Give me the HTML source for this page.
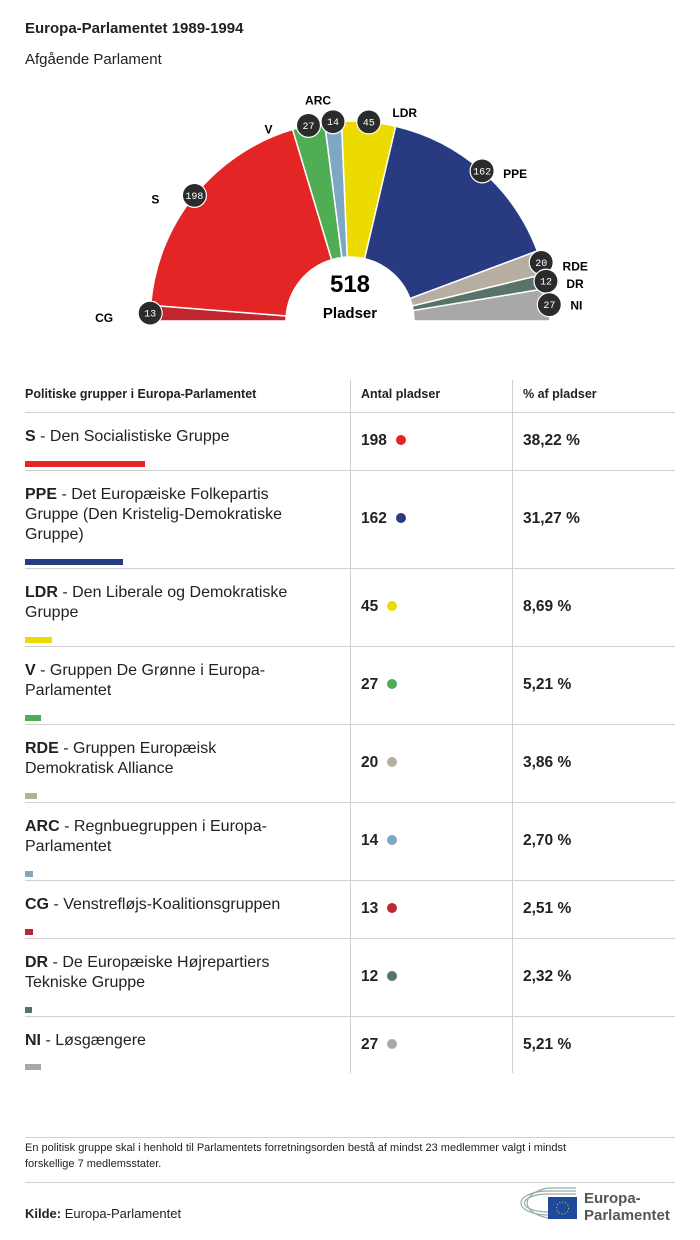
<!DOCTYPE html>
<html><head><meta charset="utf-8">
<style>
body{margin:0;width:700px;height:1240px;background:#fff;font-family:"Liberation Sans",sans-serif;color:#222;position:relative;overflow:hidden}
.a{position:absolute}
.t{font-size:16px;line-height:20px}
.hl{position:absolute;height:1px;background:#d0d0d0}
.vl{position:absolute;width:1px;background:#d0d0d0}
</style></head><body>
<div class="a" style="left:25px;top:20px;font-size:15px;font-weight:bold">Europa-Parlamentet 1989-1994</div>
<div class="a" style="left:25px;top:51px;font-size:15px">Afgående Parlament</div>
<svg class="a" style="left:0;top:0" width="700" height="360" id="hemi"></svg>
<div id="table"></div>
<div class="hl" style="left:25px;top:1137px;width:650px"></div>
<div class="a" style="left:25px;top:1140px;font-size:11px;line-height:16px;width:650px">En politisk gruppe skal i henhold til Parlamentets forretningsorden bestå af mindst 23 medlemmer valgt i mindst<br>forskellige 7 medlemsstater.</div>
<div class="hl" style="left:25px;top:1182px;width:650px"></div>
<div class="a" style="left:25px;top:1206px;font-size:13px"><b>Kilde:</b> Europa-Parlamentet</div>
<svg class="a" style="left:512px;top:1185px" width="170" height="40">
<g fill="none" stroke="#9aa" stroke-width="1.2"><path d="M36 33 A32 16 0 0 1 36 3"/><path d="M36 30 A27 12 0 0 1 36 6"/><path d="M36 27 A21 8 0 0 1 36 9"/><path d="M36 3 L64 3 M36 6 L64 6 M36 9 L64 9"/></g>
<rect x="36" y="12" width="29" height="22" fill="#1f4a9c"/><circle cx="50.5" cy="23" r="6" fill="none" stroke="#fc0" stroke-dasharray="1 2.1"/>
<text x="72" y="18" font-size="15" font-weight="bold" fill="#555">Europa-</text>
<text x="72" y="35" font-size="15" font-weight="bold" fill="#555">Parlamentet</text>
</svg>
<script>
const groups=["CG","S","V","ARC","LDR","PPE","RDE","DR","NI"];
const seats=[13,198,27,14,45,162,20,12,27];
const colors=["#c0262d","#e32526","#4fae54","#7ea7c4","#ecdb00","#283b80","#b5aea1","#58736a","#a8a8a8"];
const svg=document.getElementById('hemi');const NS="http://www.w3.org/2000/svg";
const cx=350,cy=321,R=200,r0=64;const total=seats.reduce((a,b)=>a+b,0);
function pt(a,r){return [cx-Math.cos(a)*r,cy-Math.sin(a)*r];}
let acc=0;
const labOff={CG:[-46,5],S:[-39,4],V:[-40,4],ARC:[-15,-21],LDR:[36,-9],PPE:[33,3],RDE:[34,4],DR:[29,3],NI:[27,1]};
seats.forEach((s,i)=>{const a0=acc/total*Math.PI;acc+=s;const a1=acc/total*Math.PI;
const p0=pt(a0,R),p1=pt(a1,R),q1=pt(a1,r0),q0=pt(a0,r0);
const p=document.createElementNS(NS,'path');
p.setAttribute('d',`M${p0} A${R} ${R} 0 0 1 ${p1} L${q1} A${r0} ${r0} 0 0 0 ${q0}Z`);
p.setAttribute('fill',colors[i]);p.setAttribute('stroke','#fff');p.setAttribute('stroke-width','1.5');


svg.appendChild(p);});
acc=0;
seats.forEach((s,i)=>{const am=(acc+s/2)/total*Math.PI;acc+=s;const [x,y]=pt(am,R);
const g=document.createElementNS(NS,'g');


g.innerHTML=`<circle cx="${x}" cy="${y}" r="12" fill="#2b2b2b" stroke="#fff" stroke-width="1.2"/><text x="${x}" y="${y+3.5}" font-size="10" fill="#fff" text-anchor="middle" font-family="Liberation Mono,monospace">${s}</text>`;
svg.appendChild(g);
const o=labOff[groups[i]];const t=document.createElementNS(NS,'text');
t.setAttribute('x',x+o[0]);t.setAttribute('y',y+o[1]+4);t.setAttribute('font-size','12');t.setAttribute('font-weight','bold');t.setAttribute('text-anchor','middle');
t.textContent=groups[i];


svg.appendChild(t);});
const ct=document.createElementNS(NS,'g');


ct.innerHTML=`<text x="350" y="292" font-size="24" font-weight="bold" text-anchor="middle">${total}</text><text x="350" y="318" font-size="15" font-weight="bold" text-anchor="middle">Pladser</text>`;
svg.appendChild(ct);

const rowGroups=["S","PPE","LDR","V","RDE","ARC","CG","DR","NI"];
const rowNames=["Den Socialistiske Gruppe","Det Europæiske Folkepartis<br>Gruppe (Den Kristelig-Demokratiske<br>Gruppe)","Den Liberale og Demokratiske<br>Gruppe","Gruppen De Grønne i Europa-<br>Parlamentet","Gruppen Europæisk<br>Demokratisk Alliance","Regnbuegruppen i Europa-<br>Parlamentet","Venstrefløjs-Koalitionsgruppen","De Europæiske Højrepartiers<br>Tekniske Gruppe","Løsgængere"];
const rowSeats=[198,162,45,27,20,14,13,12,27];
const rowPct=["38,22 %","31,27 %","8,69 %","5,21 %","3,86 %","2,70 %","2,51 %","2,32 %","5,21 %"];
const rowColors=["#e32526","#283b80","#ecdb00","#4fae54","#b5aea1","#7ea7c4","#c0262d","#58736a","#a8a8a8"];
const rowHeights=[58,98,78,78,78,78,58,78,57];
const tb=document.getElementById('table');
let h=`<div class="a" style="left:25px;top:387px;font-size:12.5px;font-weight:bold">Politiske grupper i Europa-Parlamentet</div>
<div class="a" style="left:361px;top:387px;font-size:12.5px;font-weight:bold">Antal pladser</div>
<div class="a" style="left:523px;top:387px;font-size:12.5px;font-weight:bold">% af pladser</div>
<div class="vl" style="left:350px;top:380px;height:693px"></div><div class="vl" style="left:512px;top:380px;height:693px"></div>`;
let y=412;
tb.innerHTML=h;
rowGroups.forEach((g,i)=>{const hh=rowHeights[i];
const d=document.createElement('div');


d.innerHTML=`<div class="hl" style="left:25px;top:${y}px;width:650px"></div>
<div class="a t" style="left:25px;top:${y+15}px;width:320px;white-space:nowrap"><b>${g}</b> - ${rowNames[i]}</div>
<div class="a" style="left:25px;top:${y+hh-9}px;height:6px;width:${rowSeats[i]*0.606}px;background:${rowColors[i]}"></div>
<div class="a" style="left:361px;top:${y+hh/2-9}px;font-size:15.5px;font-weight:bold">${rowSeats[i]}<span style="display:inline-block;width:10px;height:10px;border-radius:50%;background:${rowColors[i]};margin-left:9px"></span></div>
<div class="a" style="left:523px;top:${y+hh/2-9}px;font-size:15.5px;font-weight:bold">${rowPct[i]}</div>`;
tb.appendChild(d);y+=hh;});
</script>
</body></html>
